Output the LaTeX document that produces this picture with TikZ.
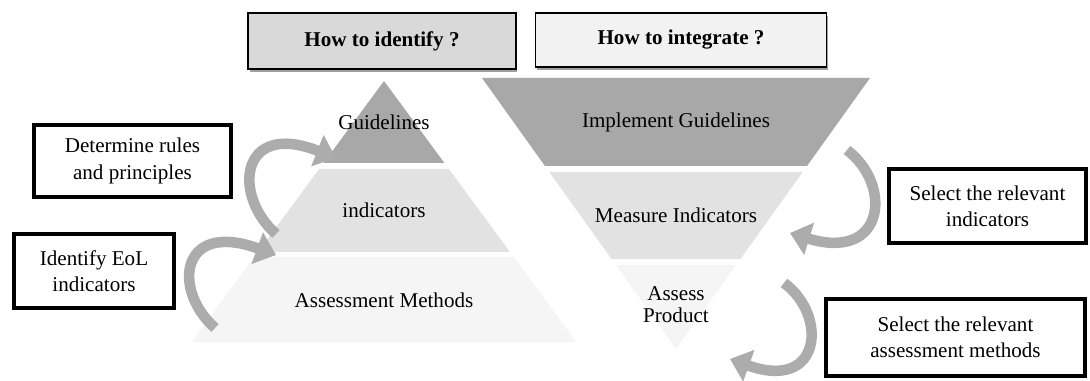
\documentclass[tikz,border=0pt]{standalone}
\usepackage{fontspec}
\setmainfont{Liberation Serif}
\usetikzlibrary{arrows.meta,shadows}
\definecolor{tierdark}{RGB}{168,168,168}
\definecolor{tiermid}{RGB}{226,226,226}
\definecolor{tierlight}{RGB}{245,245,245}
\definecolor{headgray}{RGB}{217,217,217}
\definecolor{headlight}{RGB}{242,242,242}
\definecolor{arrowgray}{RGB}{172,172,172}

\begin{document}
\begin{tikzpicture}[x=0.02cm,y=-0.02cm,
    every node/.style={font=\fontsize{12}{15}\selectfont},
    headbox/.style={draw=black, line width=0.9pt, font=\fontsize{12}{15}\selectfont\bfseries,
      drop shadow={shadow xshift=0.03cm,shadow yshift=-0.07cm,fill=gray!75,opacity=1}},
    sidebox/.style={draw=black, line width=2.3pt, fill=white, align=center},
    tierlabel/.style={align=center, font=\fontsize{12}{12.5}\selectfont},
    curvedarrow/.style={draw=arrowgray, line width=6pt, -{Triangle[length=4mm,width=6.5mm]}}]
        \useasboundingbox (0,0) rectangle (1090,381);

        % headers
        \node[headbox, fill=headgray, minimum width=5.36cm, minimum height=1.12cm] (hid) at (382,41) {How to identify ?};
        \node[headbox, fill=headlight, minimum width=5.82cm, minimum height=1.08cm] (hin) at (681,40) {How to integrate ?};

        % left pyramid
        \fill[tierdark]  (384,81) -- (444.4,163) -- (323.6,163) -- cycle;
        \fill[tiermid]   (319.1,169) -- (448.9,169) -- (510,252) -- (258,252) -- cycle;
        \fill[tierlight] (254.3,257) -- (513.7,257) -- (576.4,342) -- (191.6,342) -- cycle;

        % right pyramid (upside down)
        \fill[tierdark]  (482,78) -- (870,78) -- (807,166) -- (545,166) -- cycle;
        \fill[tiermid]   (549.3,172) -- (802.7,172) -- (740.4,259) -- (611.6,259) -- cycle;
        \fill[tierlight] (615.9,265) -- (736.1,265) -- (676,349) -- cycle;

        \node[tierlabel] (gl) at (384,122) {Guidelines};
        \node[tierlabel] (ind) at (384,210) {indicators};
        \node[tierlabel] (am) at (384,300) {Assessment Methods};
        \node[tierlabel] (ig) at (676,122) {Implement Guidelines};
        \node[tierlabel] (mi) at (676,215) {Measure Indicators};
        \node[tierlabel] (ap) at (676,305) {Assess\\Product};

        % side boxes
        \node[sidebox, minimum width=3.94cm, minimum height=1.44cm] (rules) at (132.5,161) {Determine rules\\and principles};
        \node[sidebox, minimum width=3.2cm, minimum height=1.48cm] (eol) at (94,271) {Identify EoL\\indicators};
        \node[sidebox, minimum width=3.94cm, minimum height=1.48cm] (selind) at (987.5,206) {Select the relevant\\indicators};
        \node[sidebox, minimum width=5.18cm, minimum height=1.54cm] (selam) at (955.5,337.5) {Select the relevant\\assessment methods};

        % curved arrows
        \coordinate (a1s) at (276,234);
        \coordinate (a1e) at (336,158);
        \coordinate (a2s) at (215,328);
        \coordinate (a2e) at (276,255);
        \coordinate (a3s) at (847,150);
        \coordinate (a3e) at (790,233);
        \coordinate (a4s) at (784,283);
        \coordinate (a4e) at (730,359);

        \draw[curvedarrow] (a1s) .. controls (232,195) and (240,120) .. (a1e);
        \draw[curvedarrow] (a2s) .. controls (172,290) and (180,220) .. (a2e);
        \draw[curvedarrow] (a3s) .. controls (893,185) and (885,262) .. (a3e);
        \draw[curvedarrow] (a4s) .. controls (828,315) and (822,392) .. (a4e);

      \end{tikzpicture}
\end{document}
